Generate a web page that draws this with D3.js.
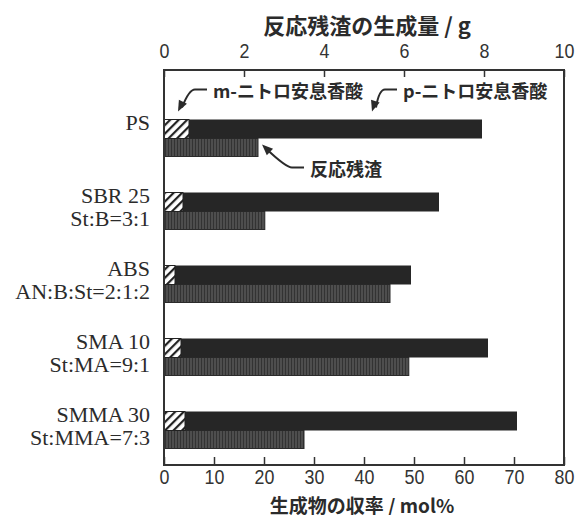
<!DOCTYPE html>
<html>
<head>
<meta charset="utf-8">
<script src="https://cdn.jsdelivr.net/npm/d3@7"></script>
<style>
  body { margin: 0; background: #fff; }
  .tick text { font-family: "Liberation Sans", sans-serif; fill: #333; }
  .jp { font-family: "Noto Sans CJK JP", sans-serif; font-weight: 700; fill: #2b2b2b; }
  .cat { font-family: "Liberation Serif", serif; font-size: 22px; fill: #2b2b2b; }
</style>
</head>
<body>
<script>
// polymers and their composition
const categories = ["PS", "SBR 25", "ABS", "SMA 10", "SMMA 30"];
const compositions = ["", "St:B=3:1", "AN:B:St=2:1:2", "St:MA=9:1", "St:MMA=7:3"];
// yields, mol% (m-nitro stacked first, then p-nitro)
const mYield = [5.0, 3.8, 2.2, 3.4, 4.2];
const pYield = [58.6, 51.2, 47.2, 61.4, 66.4];
// reaction residue, g
const residue = [2.35, 2.52, 5.65, 6.12, 3.5];

const bottomTicks = [0, 10, 20, 30, 40, 50, 60, 70, 80];
const topTicks = [0, 2, 4, 6, 8, 10];

const W = 580, H = 515;
const plot = {left: 164, right: 564, top: 70, bottom: 465};

const svg = d3.select("body").append("svg").attr("width", W).attr("height", H);

const xBot = d3.scaleLinear().domain([0, 80]).range([plot.left, plot.right]);
const xTop = d3.scaleLinear().domain([0, 10]).range([plot.left, plot.right]);
const y = d3.scalePoint().domain(categories).range([138.5, 430.5]);

const barH = 19;

// patterns
const defs = svg.append("defs");
const hatch = defs.append("pattern").attr("id", "hatch")
  .attr("patternUnits", "userSpaceOnUse").attr("width", 6).attr("height", 6)
  .attr("patternTransform", "rotate(45)");
hatch.append("rect").attr("width", 6).attr("height", 6).attr("fill", "#fff");
hatch.append("rect").attr("width", 2.2).attr("height", 6).attr("fill", "#222");

const vstripe = defs.append("pattern").attr("id", "vstripe")
  .attr("patternUnits", "userSpaceOnUse").attr("width", 3).attr("height", 4);
vstripe.append("rect").attr("width", 3).attr("height", 4).attr("fill", "#4e4e4e");
vstripe.append("rect").attr("width", 1).attr("height", 4).attr("fill", "#333");

const rows = categories.map((c, i) => ({c, comp: compositions[i], m: mYield[i], p: pYield[i], r: residue[i]}));

// residue bars
svg.selectAll(".res").data(rows).enter().append("rect")
  .attr("x", xTop(0))
  .attr("y", d => y(d.c))
  .attr("width", d => xTop(d.r) - xTop(0))
  .attr("height", barH - 1)
  .attr("fill", "url(#vstripe)")
  .attr("stroke", "#2b2b2b").attr("stroke-width", 1);

// p-nitro bars
svg.selectAll(".pbar").data(rows).enter().append("rect")
  .attr("x", d => xBot(d.m))
  .attr("y", d => y(d.c) - barH)
  .attr("width", d => xBot(d.m + d.p) - xBot(d.m))
  .attr("height", barH)
  .attr("fill", "#262626");

// m-nitro bars
svg.selectAll(".mbar").data(rows).enter().append("rect")
  .attr("x", xBot(0))
  .attr("y", d => y(d.c) - barH)
  .attr("width", d => xBot(d.m) - xBot(0))
  .attr("height", barH)
  .attr("fill", "url(#hatch)")
  .attr("stroke", "#222").attr("stroke-width", 1);

// frame
svg.append("rect")
  .attr("x", plot.left).attr("y", plot.top)
  .attr("width", plot.right - plot.left).attr("height", plot.bottom - plot.top)
  .attr("fill", "none").attr("stroke", "#333").attr("stroke-width", 2);

// axes
const gBot = svg.append("g").attr("transform", `translate(0,${plot.bottom})`)
  .call(d3.axisBottom(xBot).tickValues(bottomTicks).tickSize(-8).tickPadding(4));
const gTop = svg.append("g").attr("transform", `translate(0,${plot.top})`)
  .call(d3.axisTop(xTop).tickValues(topTicks).tickSize(-7).tickPadding(12));
[gBot, gTop].forEach(g => {
  g.select(".domain").remove();
  g.selectAll(".tick line").attr("stroke", "#333").attr("stroke-width", 1.5);
});
gBot.selectAll(".tick text").style("font-size", "21px").attr("transform", "scale(0.85,1)");
gTop.selectAll(".tick text").style("font-size", "21px").attr("transform", "scale(0.85,1)");

// axis titles
svg.append("text").attr("class", "jp")
  .attr("x", 367).attr("y", 24).attr("text-anchor", "middle")
  .attr("dominant-baseline", "central").style("font-size", "22px")
  .text("反応残渣の生成量 / g");
svg.append("text").attr("class", "jp")
  .attr("x", 362).attr("y", 504).attr("text-anchor", "middle")
  .attr("dominant-baseline", "central").style("font-size", "19px")
  .text("生成物の収率 / mol%");

// category labels
const labels = svg.selectAll(".cat").data(rows).enter().append("text")
  .attr("class", "cat").attr("text-anchor", "end")
  .attr("x", 150);
labels.append("tspan").attr("x", 150)
  .attr("y", d => y(d.c) - 16).attr("dominant-baseline", "central").text(d => d.c);
labels.append("tspan").attr("x", 150)
  .attr("y", d => y(d.c) + 7).attr("dominant-baseline", "central").text(d => d.comp);

// annotations with hooked arrows
const notes = [
  {text: "m-ニトロ安息香酸", tx: xBot(2.8), ty: y("PS") - 27, dx: 35, dy: -22},
  {text: "p-ニトロ安息香酸", tx: xBot(41.6), ty: y("PS") - 27, dx: 31, dy: -22},
  {text: "反応残渣", tx: xTop(2.45), ty: y("PS") + 6, dx: 48, dy: 23}
];

notes.forEach(n => {
  const sx = n.tx + n.dx - 6, sy = n.ty + n.dy;
  const kx = sx - 12;
  const path = d3.path();
  path.moveTo(sx, sy);
  path.lineTo(kx, sy);
  path.quadraticCurveTo(kx - 6, sy, n.tx + 4, n.ty + (n.dy > 0 ? 4 : -4));
  svg.append("path").attr("d", path.toString())
    .attr("fill", "none").attr("stroke", "#2b2b2b").attr("stroke-width", 2);
  // arrowhead
  const ang = Math.atan2(n.ty - sy, n.tx - (kx - 6));
  const L = 11, Wd = 4.5;
  const bx = n.tx - L * Math.cos(ang), by = n.ty - L * Math.sin(ang);
  const px = -Math.sin(ang) * Wd, py = Math.cos(ang) * Wd;
  svg.append("path")
    .attr("d", `M${n.tx},${n.ty} L${bx + px},${by + py} L${bx - px},${by - py} Z`)
    .attr("fill", "#2b2b2b");
  svg.append("text").attr("class", "jp")
    .attr("x", n.tx + n.dx).attr("y", n.ty + n.dy)
    .attr("dominant-baseline", "central").style("font-size", "18px")
    .text(n.text);
});
</script>
</body>
</html>
